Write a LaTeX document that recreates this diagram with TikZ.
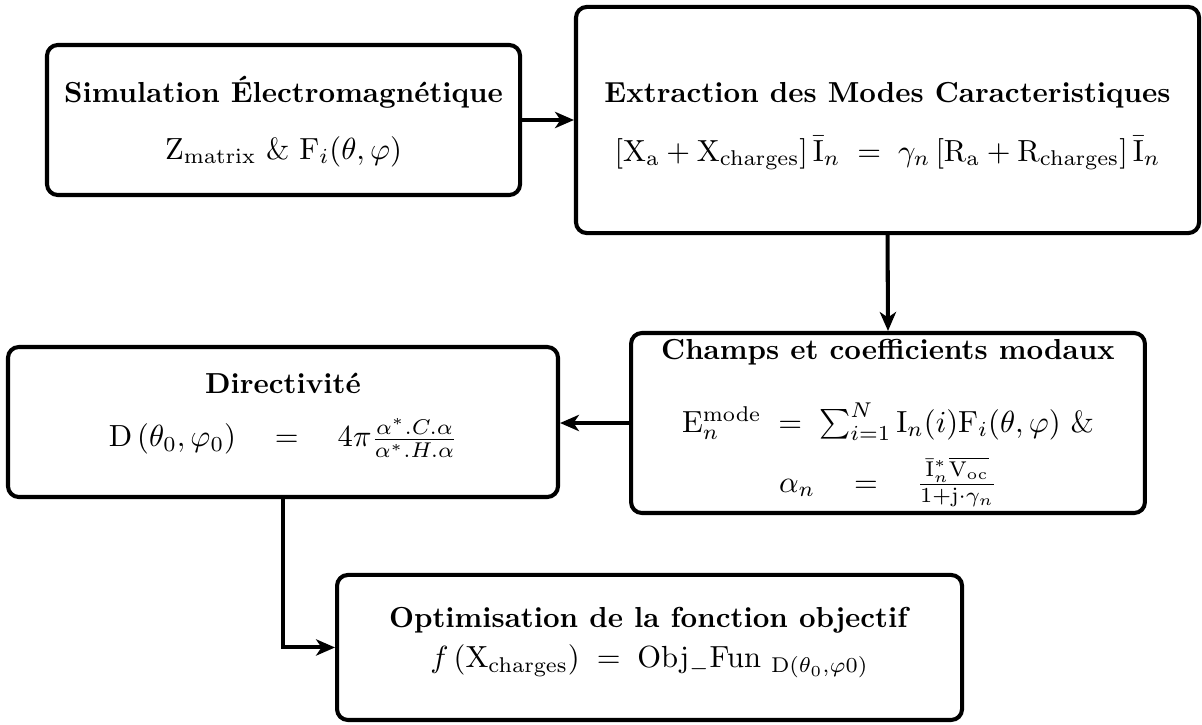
\RequirePackage{fix-cm}
\documentclass[tikz,border=0pt]{standalone}
\usepackage{amsmath}
\usepackage{tikz}
\usetikzlibrary{arrows.meta, positioning, calc}
\definecolor{mydark}{RGB}{0,0,0}
\newcommand{\eqsz}{\fontsize{11.3}{13.5}\selectfont}
\tikzset{
  block/.style={rectangle, draw=mydark, align=center, inner sep=0pt,
    rounded corners=4pt, line width=1.5pt, font=\fontsize{10.7}{12.8}\selectfont},
  arrow/.style={-{Stealth[length=7pt,width=6pt,inset=2pt]}, line width=1.5pt, color=mydark}
}

\begin{document}
\begin{tikzpicture}
\useasboundingbox (0,0) rectangle (15.626,9.412);
%--- top row ---
\node[block, minimum width=6.15cm, minimum height=1.95cm] (sim) at (3.686,7.852)
  {\rule{0pt}{11pt}\textbf{Simulation Électromagnétique}\\[8pt]
   \eqsz $\mathrm{Z_{matrix}}$ \& $\mathrm{F}_i(\theta,\varphi)$};
\node[block, minimum width=8.10cm, minimum height=2.94cm] (ext) at (11.538,7.852)
  {\rule{0pt}{12pt}\textbf{Extraction des Modes Caracteristiques}\\[9pt]
   \eqsz $[\mathrm{X_a}+\mathrm{X_{charges}}]\,\bar{\mathrm{I}}_n \;=\; \gamma_n\,[\mathrm{R_a}+\mathrm{R_{charges}}]\,\bar{\mathrm{I}}_n$};
%--- middle row ---
\node[block, minimum width=6.68cm, minimum height=2.34cm] (champs) at (11.544,3.913)
  {\textbf{Champs et coefficients modaux}\\[13pt]
   \eqsz $\mathrm{E}_n^{\mathrm{mode}} \;=\; \sum_{i=1}^{N}\mathrm{I}_n(i)\mathrm{F}_i(\theta,\varphi)$ \&\\[5pt]
   \eqsz $\alpha_n \quad = \quad \frac{\bar{\mathrm{I}}_n^{*}\overline{\mathrm{V_{oc}}}}{1+\mathrm{j}\cdot\gamma_n}$};
\node[block, minimum width=7.15cm, minimum height=1.95cm] (dir) at (3.679,3.926)
  {\textbf{Directivité}\\[7pt]
   \eqsz $\mathrm{D}\left(\theta_0,\varphi_0\right) \quad = \quad 4\pi\frac{\alpha^*.C.\alpha}{\alpha^*.H.\alpha}$\rule[-9pt]{0pt}{0pt}};
%--- bottom ---
\node[block, minimum width=8.125cm, minimum height=1.885cm] (opt) at (8.444,0.995)
  {\textbf{Optimisation de la fonction objectif}\\[2pt]
   \eqsz $f\left(\mathrm{X_{charges}}\right) \;=\; \mathrm{Obj}_{-}\mathrm{Fun}\ _{\mathrm{D}(\theta_0,\varphi0)}$\rule[-7.5pt]{0pt}{0pt}};
% connectors
\draw[arrow] (sim.east) -- (sim.east -| ext.west);
\draw[arrow] (ext.south) -- (champs.north);
\draw[arrow] (champs.west) -- (champs.west -| dir.east);
\draw[arrow] (dir.south) |- (opt.west);
\end{tikzpicture}
\end{document}
